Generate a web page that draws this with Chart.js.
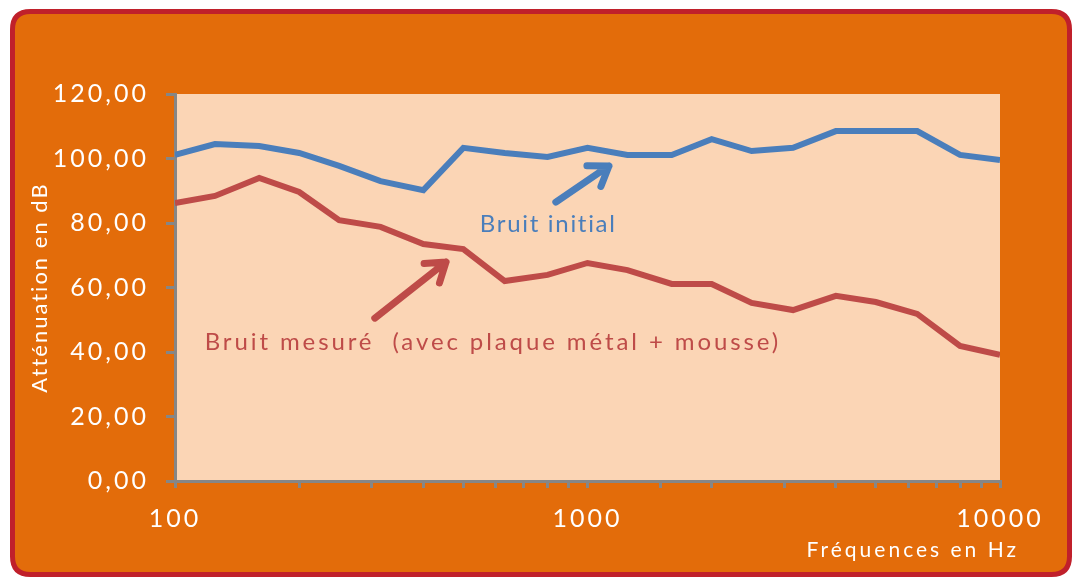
<!DOCTYPE html>
<html>
<head>
<meta charset="utf-8">
<script src="https://cdn.jsdelivr.net/npm/chart.js@4"></script>
<style>
  html, body { margin: 0; padding: 0; background: #fff; }
  canvas { display: block; }
</style>
</head>
<body>
<canvas id="myChart" width="1072" height="577"></canvas>
<script>
// data
const frequencies = [100, 125, 160, 200, 250, 315, 400, 500, 630, 800, 1000, 1250, 1600, 2000, 2500, 3150, 4000, 5000, 6300, 8000, 10000];
const bruitInitial = [101.1, 104.5, 103.9, 101.7, 97.7, 93.0, 90.2, 103.3, 101.7, 100.5, 103.3, 101.1, 101.1, 106.0, 102.3, 103.3, 108.5, 108.5, 108.5, 101.1, 99.5];
const bruitMesure = [86.2, 88.4, 94.0, 89.6, 80.9, 78.8, 73.5, 71.9, 62.0, 63.9, 67.6, 65.4, 61.1, 61.1, 55.2, 53.0, 57.4, 55.5, 51.8, 41.9, 39.1];
const yTicks = [0, 20, 40, 60, 80, 100, 120];
const xLabels = [100, 1000, 10000];

// annotations (in data units: [freq, dB])
const labelInitial = { text: 'Bruit initial', at: [548, 79.7] };
const labelMesure = { text: 'Bruit mesuré  (avec plaque métal + mousse)', at: [118, 43.1] };
const arrowInitial = { from: [838, 86.5], to: [1127, 97.7] };
const arrowMesure = { from: [305, 50.5], to: [454, 67.9] };

const BLUE = '#4a7ebb';
const RED = '#be4b48';
const FONT = 'Lato, "Open Sans", sans-serif';

function roundRect(ctx, x, y, w, h, r) {
    ctx.beginPath();
    ctx.moveTo(x + r, y);
    ctx.lineTo(x + w - r, y);
    ctx.quadraticCurveTo(x + w, y, x + w, y + r);
    ctx.lineTo(x + w, y + h - r);
    ctx.quadraticCurveTo(x + w, y + h, x + w - r, y + h);
    ctx.lineTo(x + r, y + h);
    ctx.quadraticCurveTo(x, y + h, x, y + h - r);
    ctx.lineTo(x, y + r);
    ctx.quadraticCurveTo(x, y, x + r, y);
    ctx.closePath();
}

function drawArrow(ctx, x1, y1, x2, y2, color) {
    const ang = Math.atan2(y2 - y1, x2 - x1);
    const head = 22;
    ctx.save();
    ctx.strokeStyle = color;
    ctx.lineWidth = 7;
    ctx.lineCap = 'round';
    ctx.lineJoin = 'round';
    ctx.beginPath();
    ctx.moveTo(x1, y1);
    ctx.lineTo(x2, y2);
    ctx.moveTo(x2 - head * Math.cos(ang - 0.6), y2 - head * Math.sin(ang - 0.6));
    ctx.lineTo(x2, y2);
    ctx.lineTo(x2 - head * Math.cos(ang + 0.6), y2 - head * Math.sin(ang + 0.6));
    ctx.stroke();
    ctx.restore();
}

const frame = {
    id: 'frame',
    beforeLayout(chart) {
        chart.ctx.letterSpacing = '3px';
    },
    beforeDraw(chart) {
        const ctx = chart.ctx;
        const a = chart.chartArea;
        ctx.save();
        ctx.fillStyle = '#ffffff';
        ctx.fillRect(0, 0, chart.width, chart.height);
        roundRect(ctx, 12.5, 11.5, 1057, 563, 18);
        ctx.fillStyle = '#e36c0a';
        ctx.fill();
        ctx.lineWidth = 5;
        ctx.strokeStyle = '#c0202b';
        ctx.stroke();
        ctx.fillStyle = '#fbd5b5';
        ctx.fillRect(a.left, a.top, a.right - a.left, a.bottom - a.top);
        ctx.restore();
        ctx.letterSpacing = '3px';
    },
    afterDraw(chart) {
        const ctx = chart.ctx;
        const xs = chart.scales.x;
        const ys = chart.scales.y;
        const px = p => [xs.getPixelForValue(p[0]), ys.getPixelForValue(p[1])];

        ctx.save();
        // axis titles
        ctx.fillStyle = '#ffffff';
        ctx.font = '21px ' + FONT;
        ctx.letterSpacing = '3px';
        ctx.textBaseline = 'middle';
        ctx.textAlign = 'right';
        ctx.fillText('Fréquences en Hz', 1019, 550);
        ctx.save();
        ctx.translate(40, (chart.chartArea.top + chart.chartArea.bottom) / 2);
        ctx.rotate(-Math.PI / 2);
        ctx.textAlign = 'center';
        ctx.font = '22px ' + FONT;
        ctx.letterSpacing = '2px';
        ctx.fillText('Atténuation en dB', 0, 0);
        ctx.restore();

        // series labels
        ctx.font = '24px ' + FONT;
        ctx.textAlign = 'left';
        ctx.letterSpacing = '1.7px';
        let p = px(labelInitial.at);
        ctx.fillStyle = BLUE;
        ctx.fillText(labelInitial.text, p[0], p[1]);
        p = px(labelMesure.at);
        ctx.fillStyle = RED;
        ctx.letterSpacing = '2.9px';
        ctx.fillText(labelMesure.text, p[0], p[1]);
        ctx.restore();

        let f = px(arrowInitial.from), t = px(arrowInitial.to);
        drawArrow(ctx, f[0], f[1], t[0], t[1], BLUE);
        f = px(arrowMesure.from); t = px(arrowMesure.to);
        drawArrow(ctx, f[0], f[1], t[0], t[1], RED);
        ctx.letterSpacing = '3px';
    }
};

const data = {
    datasets: [
        {
            label: 'Bruit initial',
            data: frequencies.map((f, i) => ({ x: f, y: bruitInitial[i] })),
            borderColor: BLUE,
            borderWidth: 6,
            pointRadius: 0,
            tension: 0,
        },
        {
            label: 'Bruit mesuré (avec plaque métal + mousse)',
            data: frequencies.map((f, i) => ({ x: f, y: bruitMesure[i] })),
            borderColor: RED,
            borderWidth: 6,
            pointRadius: 0,
            tension: 0,
        },
    ],
};

const config = {
    type: 'line',
    data,
    options: {
        responsive: false,
        animation: false,
        devicePixelRatio: 1,
        layout: { padding: { left: 0, top: 94, right: 72, bottom: 0 } },
        plugins: {
            legend: { display: false },
            tooltip: { enabled: false },
        },
        scales: {
            x: {
                type: 'logarithmic',
                min: 100,
                max: 10000,
                afterFit: (scale) => { scale.height = 96; },
                border: { color: '#868686', width: 3 },
                grid: { drawOnChartArea: false, color: '#868686', lineWidth: 3, tickLength: 7 },
                ticks: {
                    autoSkip: false,
                    maxRotation: 0,
                    padding: 16,
                    color: '#ffffff',
                    font: { family: FONT, size: 25 },
                    callback: (v) => xLabels.includes(v) ? String(v) : '',
                },
            },
            y: {
                min: 0,
                max: 120,
                afterFit: (scale) => { scale.width = 175; },
                afterBuildTicks: (scale) => { scale.ticks = yTicks.map(v => ({ value: v })); },
                border: { color: '#868686', width: 3 },
                grid: { drawOnChartArea: false, color: '#868686', lineWidth: 3, tickLength: 9 },
                ticks: {
                    padding: 17,
                    color: '#ffffff',
                    font: { family: FONT, size: 25 },
                    callback: (v) => v.toFixed(2).replace('.', ','),
                },
            },
        },
    },
    plugins: [frame],
};

const myChart = new Chart(document.getElementById('myChart'), config);
</script>
</body>
</html>
